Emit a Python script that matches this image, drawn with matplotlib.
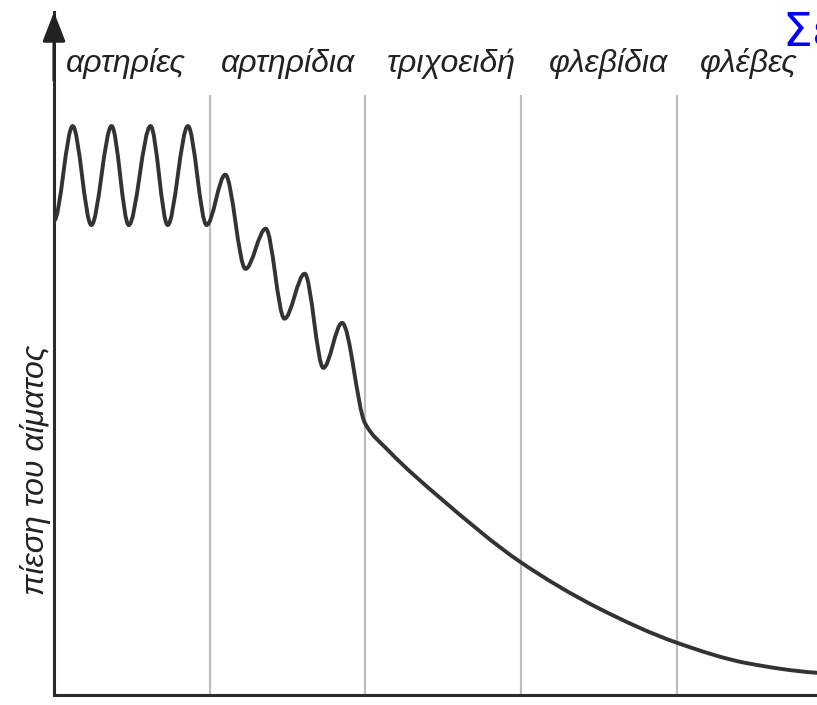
import numpy as np
import matplotlib.pyplot as plt
from matplotlib.path import Path
from matplotlib.patches import PathPatch

plt.rcParams["font.family"] = ["Liberation Sans", "DejaVu Sans"]

# vessel sections along the circulation (x in section widths)
vessels = ["αρτηρίες", "αρτηρίδια", "τριχοειδή", "φλεβίδια", "φλέβες"]
label_x = [0.46, 1.50, 2.55, 3.56, 4.46]
borders = [1, 2, 3, 4]

# pressure trace: systolic/diastolic swings in arteries
artery_x = [0.0, 0.12, 0.24, 0.37, 0.48, 0.62, 0.73, 0.86, 0.98]
artery_p = [79.0, 94.8, 78.3, 94.8, 78.3, 94.8, 78.3, 94.8, 78.3]
# damped swings in arterioles
arteriole_x = [1.10, 1.23, 1.36, 1.48, 1.61, 1.73, 1.85]
arteriole_p = [86.7, 71.0, 77.7, 62.7, 70.2, 54.5, 62.0]
# steady fall through capillaries, venules and veins
venous_x = [1.997, 2.145, 2.486, 2.993, 3.494, 4.001, 4.451, 4.900]
venous_p = [45.3, 40.8, 32.7, 22.2, 14.5, 8.7, 5.3, 3.7]


def smooth_path(x, y):
    """Cubic Bezier path through the knots, flat at turning points."""
    x, y = np.asarray(x, float), np.asarray(y, float)
    h = np.diff(x)
    d = np.diff(y) / h
    m = np.zeros_like(x)
    for i in range(1, len(x) - 1):
        if d[i - 1] * d[i] > 0:
            w1 = 2 * h[i] + h[i - 1]
            w2 = h[i] + 2 * h[i - 1]
            m[i] = (w1 + w2) / (w1 / d[i - 1] + w2 / d[i])
    m[-1] = 0.5 * d[-1]
    verts = [(x[0], y[0])]
    codes = [Path.MOVETO]
    for i in range(len(h)):
        verts += [(x[i] + h[i] / 3, y[i] + m[i] * h[i] / 3),
                  (x[i + 1] - h[i] / 3, y[i + 1] - m[i + 1] * h[i] / 3),
                  (x[i + 1], y[i + 1])]
        codes += [Path.CURVE4] * 3
    return Path(verts, codes)


fig = plt.figure(figsize=(8.17, 7.05), dpi=100)
ax = fig.add_axes([54 / 817, 10 / 705, 763 / 817, 683 / 705])
ax.set_xlim(0, 4.9)
ax.set_ylim(0, 113.8)

ax.vlines(borders, 0, 100, color="#bdbdbd", lw=1.6, zorder=1)

trace = smooth_path(artery_x + arteriole_x + venous_x,
                    artery_p + arteriole_p + venous_p)
ax.add_patch(PathPatch(trace, fill=False, ec="#333333", lw=2.8, zorder=3,
                       capstyle="round", joinstyle="round"))

for name, xc in zip(vessels, label_x):
    ax.text(xc, 103.8, name, ha="center", va="baseline", fontsize=23,
            style="italic", color="#222222")

for side in ["top", "right"]:
    ax.spines[side].set_visible(False)
for side in ["left", "bottom"]:
    ax.spines[side].set_linewidth(2.2)
    ax.spines[side].set_color("#2b2b2b")
ax.set_xticks([])
ax.set_yticks([])

ax.annotate("", xy=(0, 1), xycoords="axes fraction", xytext=(0, 0.9),
            arrowprops=dict(arrowstyle="-|>,head_length=0.9,head_width=0.35",
                            mutation_scale=20, color="#222222", lw=2.2,
                            shrinkA=0, shrinkB=0))

fig.text(36 / 817, 1 - 470 / 705, "πίεση του αίματος", rotation=90,
         ha="center", va="center", fontsize=23, style="italic", color="#222222")
fig.text(782 / 817, 1 - 45 / 705, "Σε", color="#0000ff", fontsize=34,
         ha="left", va="baseline", family="DejaVu Sans")

fig.savefig("out.png", dpi=100, facecolor="white")
